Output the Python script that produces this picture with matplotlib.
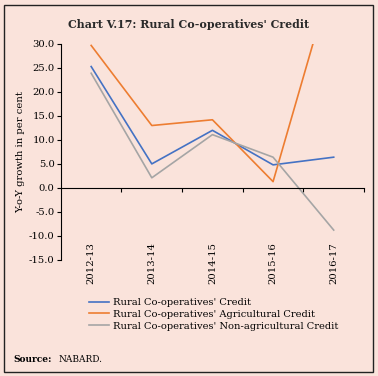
import matplotlib.pyplot as plt
from matplotlib.patches import Rectangle

# data
years = ['2012-13', '2013-14', '2014-15', '2015-16', '2016-17']
total_credit = [25.3, 5.0, 12.0, 4.8, 6.4]
agri_credit = [29.7, 13.0, 14.2, 1.3, 45.0]
non_agri_credit = [23.9, 2.1, 11.1, 6.4, -8.8]

bg = '#FAE3DB'
plt.rcParams['font.family'] = ['DejaVu Serif']

fig = plt.figure(figsize=(3.78, 3.76), dpi=100, facecolor=bg)
fig.patches.append(Rectangle((0.011, 0.011), 0.975, 0.976, transform=fig.transFigure,
                             fill=False, edgecolor='#222222', linewidth=1.0))

ax = fig.add_axes([0.161, 0.309, 0.802, 0.574])
ax.set_facecolor(bg)

x = range(len(years))
ax.plot(x, total_credit, color='#4472C4', lw=1.2, label="Rural Co-operatives' Credit")
ax.plot(x, agri_credit, color='#ED7D31', lw=1.2, label="Rural Co-operatives' Agricultural Credit")
ax.plot(x, non_agri_credit, color='#A5A5A5', lw=1.2, label="Rural Co-operatives' Non-agricultural Credit")

ax.set_ylim(-15, 30)
ax.set_xlim(-0.5, 4.5)
ax.set_yticks(range(-15, 31, 5))
ax.set_yticklabels([f'{v:.1f}' for v in range(-15, 31, 5)], fontsize=7.2)
ax.tick_params(axis='y', length=3, width=0.8, pad=1.5)

ax.spines['top'].set_visible(False)
ax.spines['right'].set_visible(False)
ax.spines['left'].set_linewidth(0.8)
ax.spines['bottom'].set_position(('data', 0))
ax.spines['bottom'].set_linewidth(0.8)

ax.set_xticks(list(x))
ax.set_xticklabels(years, rotation=90, fontsize=7.2)
ax.set_xticks([i + 0.5 for i in x], minor=True)
ax.tick_params(axis='x', which='major', length=0, pad=39)
ax.tick_params(axis='x', which='minor', length=3, width=0.8)

ax.set_ylabel('Y-o-Y growth in per cent', fontsize=7.2, labelpad=3)

fig.text(0.5, 0.935, "Chart V.17: Rural Co-operatives' Credit", ha='center', va='center',
         fontsize=7.9, fontweight='bold', color='#2a2a2a')

fig.legend(loc='upper left', bbox_to_anchor=(0.225, 0.218), frameon=False, fontsize=7.1,
           handlelength=2.0, handletextpad=0.4, labelspacing=0.3, borderaxespad=0)

fig.text(0.035, 0.043, 'Source:', fontsize=6.5, fontweight='bold', va='center')
fig.text(0.155, 0.043, 'NABARD.', fontsize=6.5, va='center')

fig.savefig('out.png', dpi=100, facecolor=bg)
